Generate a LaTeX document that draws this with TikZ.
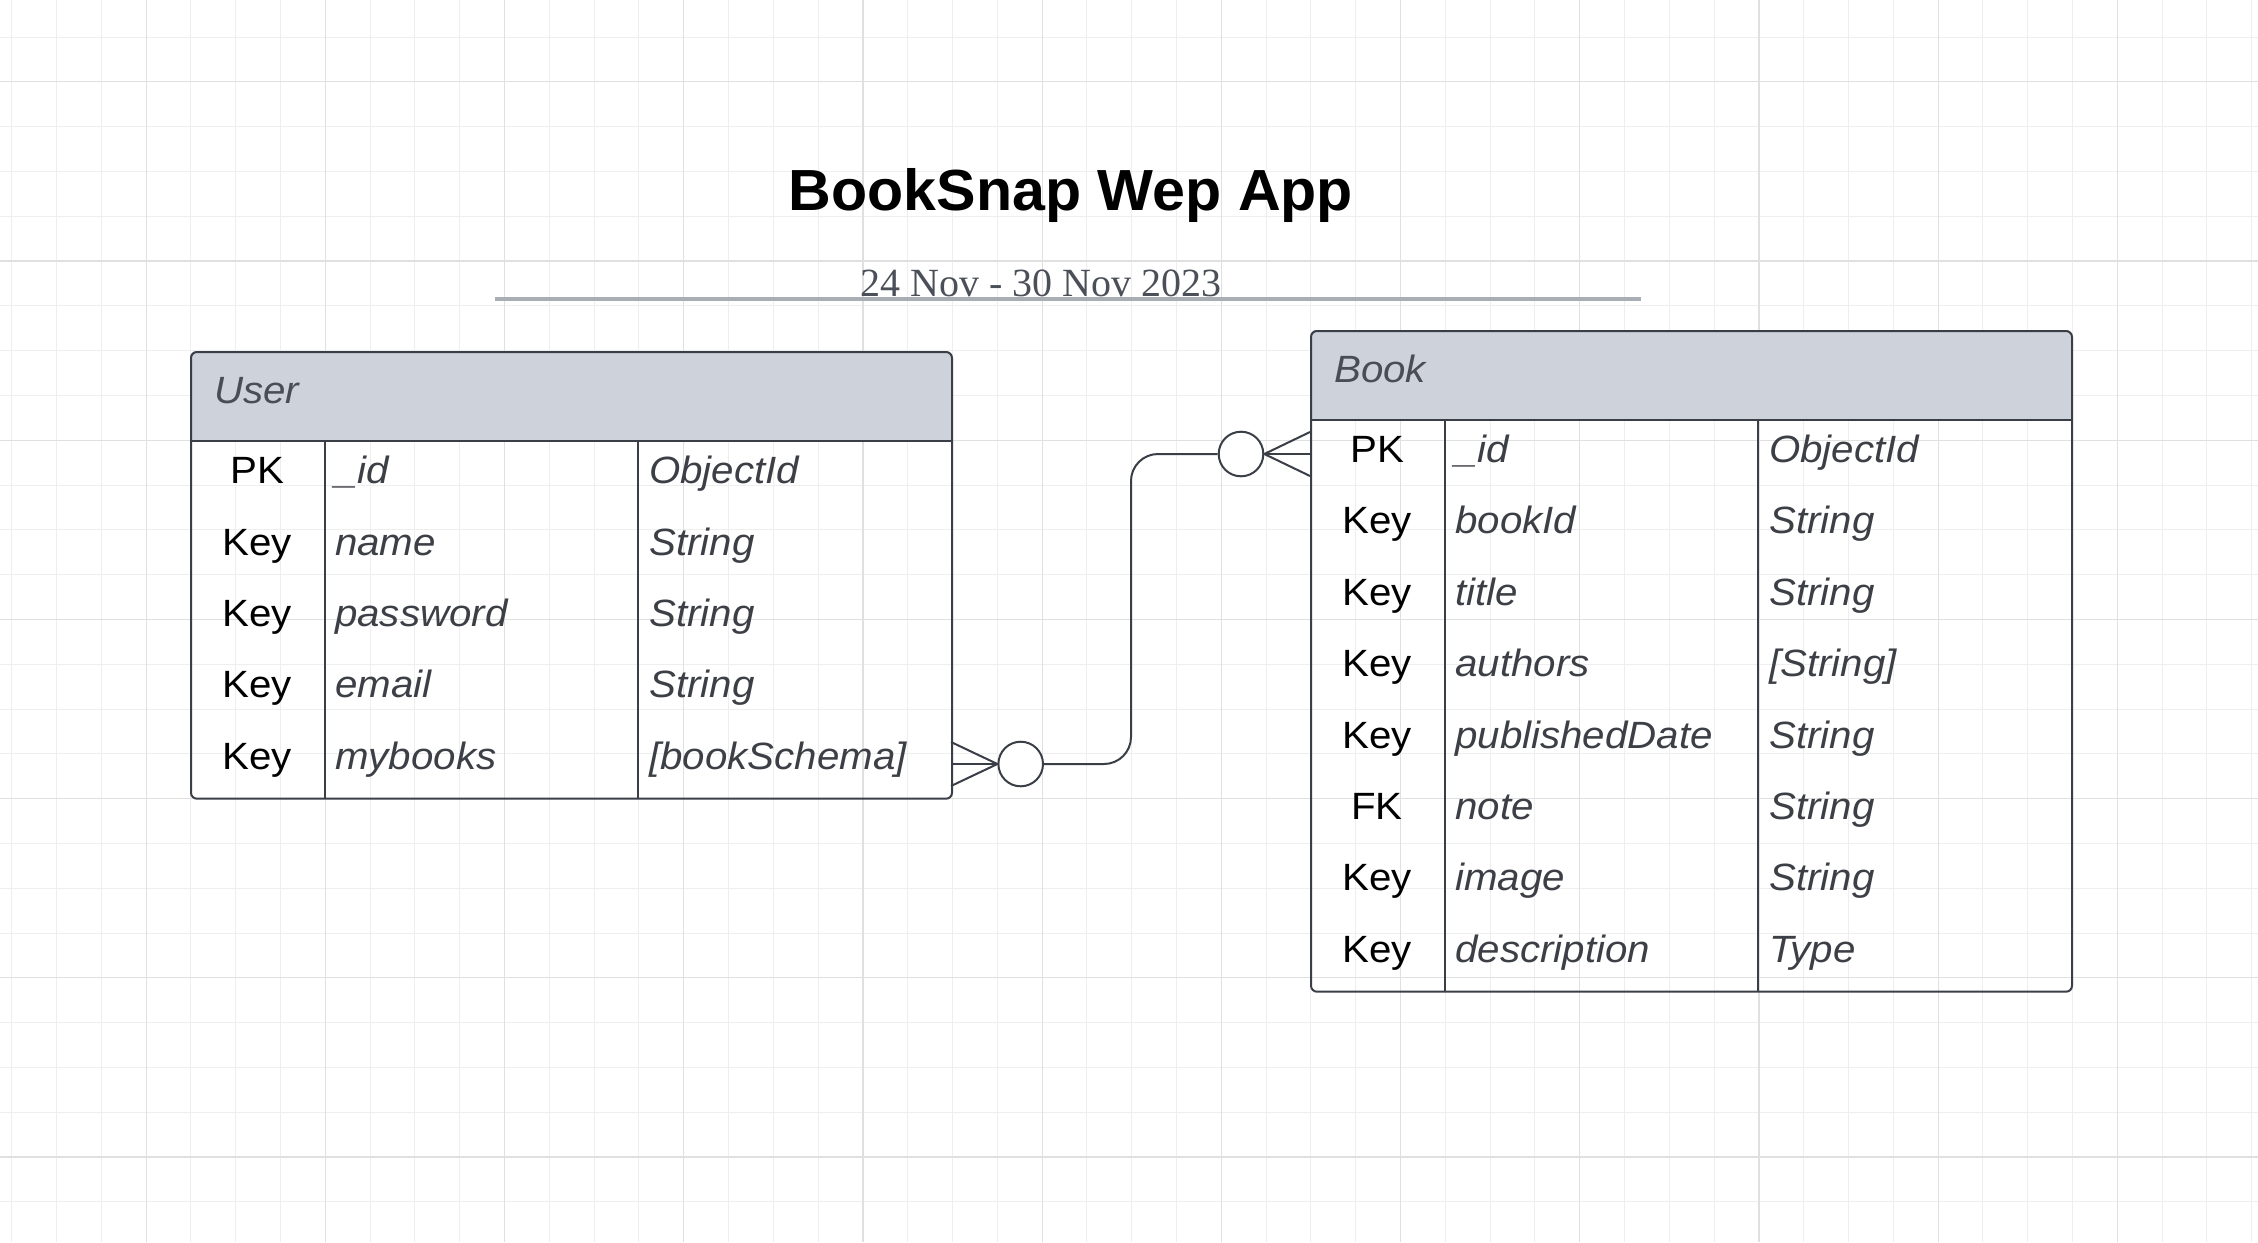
\documentclass[tikz,border=0pt]{standalone}
\usepackage{fontspec}
\setmainfont{Liberation Sans}
\newfontfamily\datefont{Liberation Serif}
\newfontfamily\tablefont[FakeStretch=1.06]{Liberation Sans}
\newfontfamily\titlefont[FakeStretch=1.02]{Liberation Sans}
\definecolor{gridminor}{HTML}{EEEEEE}
\definecolor{gridmajor}{HTML}{E0E0E0}
\definecolor{edgecol}{HTML}{3A3E46}
\definecolor{hdrfill}{HTML}{CED3DB}
\definecolor{itext}{HTML}{3C3F45}
\definecolor{hdrtext}{HTML}{4A4D55}
\definecolor{datecol}{HTML}{4A4F58}
\definecolor{rulecol}{HTML}{A8ADB6}
\tikzset{
  keytxt/.style={anchor=base, inner sep=0pt, text=black, font=\tablefont\fontsize{38}{44}\selectfont},
  nametxt/.style={anchor=base west, inner sep=0pt, text=itext, font=\tablefont\fontsize{38}{44}\selectfont\itshape},
  hdrtxt/.style={anchor=base west, inner sep=0pt, text=hdrtext, font=\tablefont\fontsize{38}{44}\selectfont\itshape},
  tablebox/.style={draw=edgecol, line width=2pt, rounded corners=6pt, inner sep=0pt, anchor=north west},
  tabline/.style={draw=edgecol, line width=2pt},
  conn/.style={draw=edgecol, line width=2pt},
  optcircle/.style={circle, draw=edgecol, line width=2pt, fill=white, minimum size=44.6pt, inner sep=0pt},
}
\newcommand\ErRow[7]{%
  \node[keytxt] (#1k#2) at ({#3+67},{#4+43}) {#5};
  \node[nametxt] (#1n#2) at ({#3+145},{#4+43}) {#6};
  \node[nametxt] (#1t#2) at ({#3+459},{#4+43}) {#7};
}
\begin{document}
\begin{tikzpicture}[x=1pt,y=-1pt]
\useasboundingbox (0,0) rectangle (2258,1242);
\fill[white] (0,0) rectangle (2258,1242);
% grid
\foreach \k in {0,...,50} \draw[gridminor, line width=1pt] ({11.7+44.8*\k},0) -- ({11.7+44.8*\k},1242);
\foreach \k in {0,...,26} \draw[gridminor, line width=1pt] (0,{37+44.8*\k}) -- (2258,{37+44.8*\k});
\foreach \k in {3,7,...,47} \draw[gridmajor, line width=1.2pt] ({11.7+44.8*\k},0) -- ({11.7+44.8*\k},1242);
\foreach \k in {1,5,...,25} \draw[gridmajor, line width=1.2pt] (0,{37+44.8*\k}) -- (2258,{37+44.8*\k});

% title
\node[anchor=base, inner sep=0pt, font=\titlefont\fontsize{58}{66}\selectfont\bfseries] (title) at (1071,210) {BookSnap Wep App};
\node[anchor=base, inner sep=0pt, text=datecol, font=\datefont\fontsize{40}{46}\selectfont] (dates) at (1041,296) {24 Nov - 30 Nov 2023};
\draw[rulecol, line width=4pt] (495,299) -- (1641,299);

% User table
\begin{scope}
\clip[rounded corners=6pt] (190,351) rectangle (951,797.7);
\fill[hdrfill] (190,351) rectangle (951,440.7);
\end{scope}
\node[tablebox, minimum width=761pt, minimum height=446.7pt] (user) at (190,351) {};
\draw[tabline] (190,440.7) -- (951,440.7);
\draw[tabline] (325,440.7) -- (325,797.7);
\draw[tabline] (638,440.7) -- (638,797.7);
\node[hdrtxt] (userhdr) at (214,403) {User};
\ErRow{u}{1}{190}{440.7}{PK}{\_id}{ObjectId}
\ErRow{u}{2}{190}{512.1}{Key}{name}{String}
\ErRow{u}{3}{190}{583.5}{Key}{password}{String}
\ErRow{u}{4}{190}{654.9}{Key}{email}{String}
\ErRow{u}{5}{190}{726.3}{Key}{mybooks}{[bookSchema]}

% Book table
\begin{scope}
\clip[rounded corners=6pt] (1310,330) rectangle (2071,990.7);
\fill[hdrfill] (1310,330) rectangle (2071,419.5);
\end{scope}
\node[tablebox, minimum width=761pt, minimum height=660.7pt] (book) at (1310,330) {};
\draw[tabline] (1310,419.5) -- (2071,419.5);
\draw[tabline] (1445,419.5) -- (1445,990.7);
\draw[tabline] (1758,419.5) -- (1758,990.7);
\node[hdrtxt] (bookhdr) at (1334,382) {Book};
\ErRow{b}{1}{1310}{419.5}{PK}{\_id}{ObjectId}
\ErRow{b}{2}{1310}{490.9}{Key}{bookId}{String}
\ErRow{b}{3}{1310}{562.3}{Key}{title}{String}
\ErRow{b}{4}{1310}{633.7}{Key}{authors}{[String]}
\ErRow{b}{5}{1310}{705.1}{Key}{publishedDate}{String}
\ErRow{b}{6}{1310}{776.5}{FK}{note}{String}
\ErRow{b}{7}{1310}{847.9}{Key}{image}{String}
\ErRow{b}{8}{1310}{919.3}{Key}{description}{Type}

% connector
\coordinate (ua) at (951,742);
\coordinate (ub) at (951,764);
\coordinate (uc) at (951,786);
\coordinate (ba) at (1310,432);
\coordinate (bb) at (1310,454);
\coordinate (bc) at (1310,476);
\coordinate (bend1) at (1131,764);
\coordinate (bend2) at (1131,454);
\node[optcircle] (c1) at (1020.7,764) {};
\node[optcircle] (c2) at (1241,454) {};
\draw[conn] (ua) -- (c1.west) -- (uc);
\draw[conn] (ub) -- (c1.west);
\draw[conn] (ba) -- (c2.east) -- (bc);
\draw[conn] (bb) -- (c2.east);
\draw[conn, rounded corners=27pt] (c1.east) -- (bend1) -- (bend2) -- (c2.west);
\end{tikzpicture}
\end{document}
